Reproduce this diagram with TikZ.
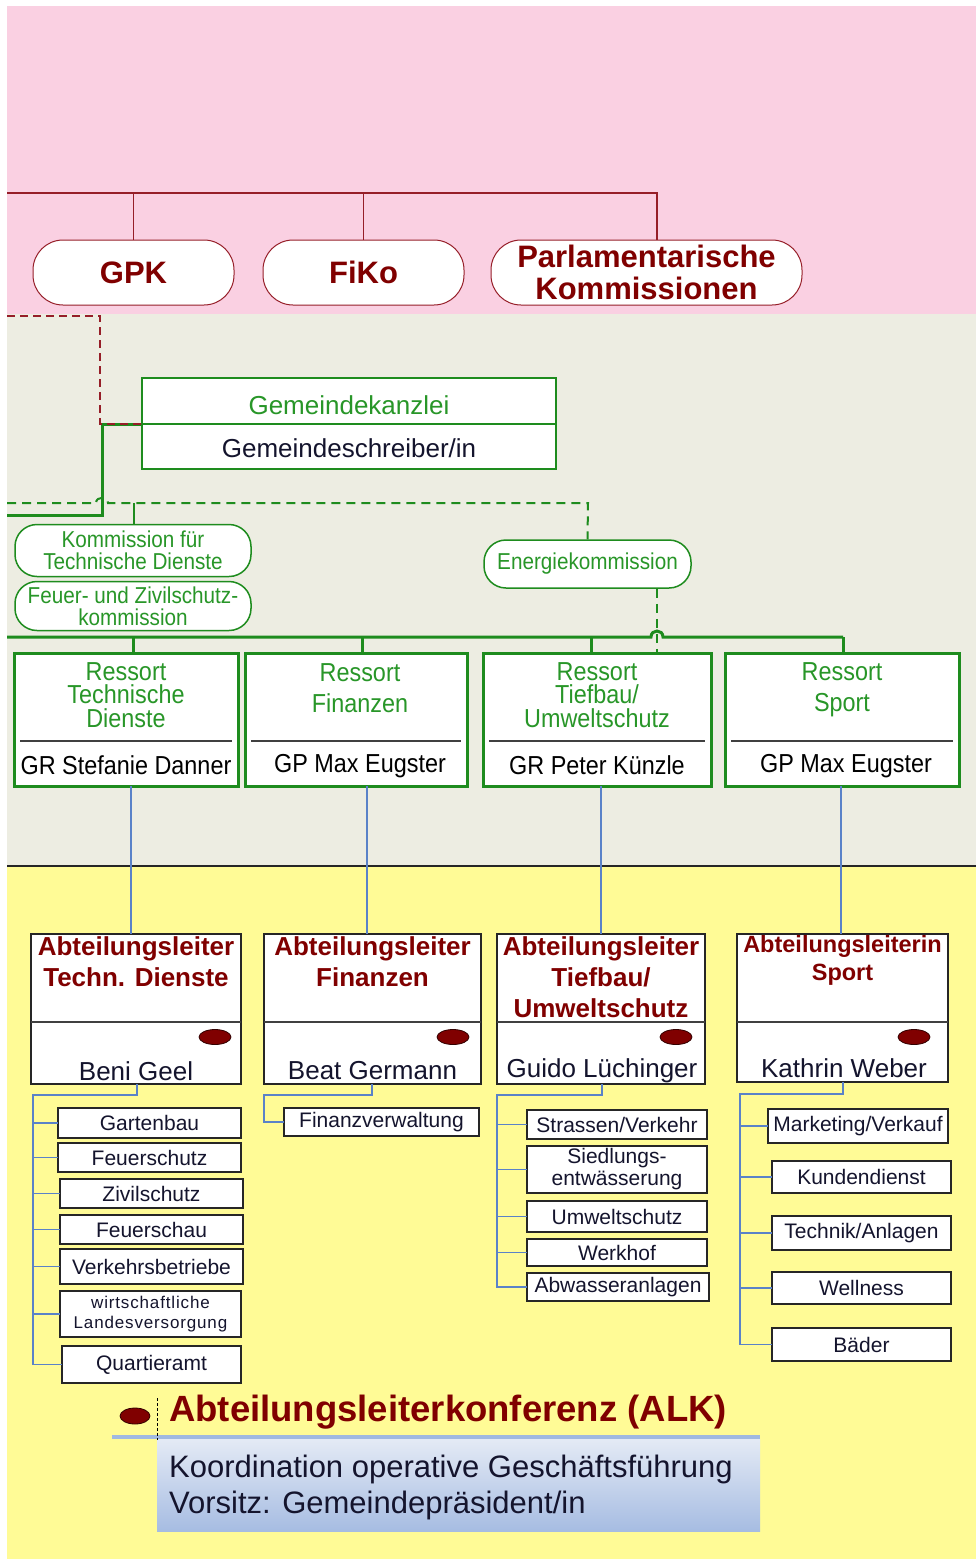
\documentclass[tikz,border=0pt]{standalone}
\usepackage{fontspec}
\setmainfont{Liberation Sans}
\newfontfamily\narrow[FakeStretch=0.9]{Liberation Sans}
\newfontfamily\spaced[LetterSpace=5]{Liberation Sans}
\usetikzlibrary{shapes.geometric,calc}
\definecolor{pinkbg}{RGB}{250,208,226}
\definecolor{beigebg}{RGB}{237,237,226}
\definecolor{yellowbg}{RGB}{255,251,150}
\definecolor{dred}{RGB}{128,0,0}
\definecolor{redline}{RGB}{150,30,40}
\definecolor{gline}{RGB}{30,140,30}
\definecolor{gtext}{RGB}{40,150,40}
\definecolor{bline}{RGB}{90,130,200}
\definecolor{navy}{RGB}{20,20,45}
\definecolor{alktop}{RGB}{228,234,245}
\definecolor{alkbot}{RGB}{166,188,226}
\definecolor{alkbar}{RGB}{160,185,225}
\tikzset{
  oval/.style={draw=redline, line width=1pt, fill=white, rounded corners=30pt, text=dred,
    font=\fontsize{31}{32}\selectfont\bfseries, inner sep=0pt, align=center},
  koval/.style={draw=gline, line width=1.5pt, fill=white, rounded corners=22pt, text=gtext,
    font=\narrow\fontsize{23}{22}\selectfont, inner sep=0pt, align=center},
  gbox/.style={draw=gline, line width=1.6pt, fill=white, inner sep=0pt, outer sep=0pt},
  gtxt/.style={font=\fontsize{26}{28}\selectfont, inner sep=0pt},
  rbox/.style={draw=gline, line width=3pt, fill=white, inner sep=0pt, outer sep=0pt},
  rtitle/.style={text=gtext, font=\narrow\fontsize{26}{23.5}\selectfont, align=center, inner sep=0pt},
  rname/.style={text=black, font=\narrow\fontsize{26}{28}\selectfont, inner sep=0pt},
  abox/.style={draw=black!85, line width=1.6pt, fill=white, inner sep=0pt, outer sep=0pt},
  atitle/.style={text=dred, font=\fontsize{26}{31}\selectfont\bfseries, align=center, inner sep=0pt},
  aname/.style={text=navy, font=\fontsize{26}{28}\selectfont, inner sep=0pt},
  dot/.style={ellipse, fill=dred, draw=black!60!dred, line width=0.8pt, minimum width=32pt,
    minimum height=15pt, inner sep=0pt},
  sbox/.style={draw=black!85, line width=1.6pt, fill=white, inner sep=0pt, outer sep=0pt,
    text=navy, font=\fontsize{21}{22}\selectfont, align=center},
  redl/.style={draw=redline, line width=1.6pt},
  rdash/.style={draw=redline, line width=1.6pt, dash pattern=on 8pt off 5pt},
  gbus/.style={draw=gline, line width=3pt},
  gdash/.style={draw=gline, line width=2pt, dash pattern=on 9pt off 6pt},
  gthin/.style={draw=gline, line width=1.5pt},
  bl/.style={draw=bline, line width=1.6pt},
  divider/.style={draw=black!75, line width=1.6pt},
}
\begin{document}
\begin{tikzpicture}[x=1pt,y=-1pt]
\useasboundingbox (0,0) rectangle (976,1559);
% backgrounds
\fill[white] (0,0) rectangle (976,1559);
\fill[pinkbg] (7,6) rectangle (976,314);
\fill[beigebg] (7,314) rectangle (976,866);
\fill[yellowbg] (7,866) rectangle (976,1559);
\draw[line width=2pt, black!85] (7,866) -- (976,866);

% ---------- top commissions
\node[oval, minimum width=201pt, minimum height=65pt] (gpk) at (133.5,272.5) {GPK};
\node[oval, minimum width=201pt, minimum height=65pt] (fiko) at (363.5,272.5) {FiKo};
\node[oval, minimum width=311pt, minimum height=65pt] (parl) at (646.5,272.5) {Parlamentarische\\Kommissionen};
\coordinate (topL) at (7,193);
\coordinate (tParl) at (657,193);
\draw[redl] (topL) -- (tParl) -- (tParl |- parl.north);
\draw[redl] (gpk.north |- topL) -- (gpk.north);
\draw[redl] (fiko.north |- topL) -- (fiko.north);

% ---------- Gemeindekanzlei
\node[gbox, minimum width=414pt, minimum height=46pt] (gk) at (349,401) {};
\node[gbox, minimum width=414pt, minimum height=45pt, anchor=north] (gs) at (gk.south) {};
\node[gtxt, text=gtext] (gkt) at (349,405) {Gemeindekanzlei};
\node[gtxt, text=navy] (gst) at (349,448) {Gemeindeschreiber/in};
\coordinate (gsL) at (7,515);
\coordinate (gsK) at (102,515);
\coordinate (rdL) at (7,316);
\coordinate (rdK) at (100,316);
\draw[gbus] (gsL) -- (gsK) -- (gsK |- gk.south west) -- (gk.south west);
\draw[rdash] (rdL) -- (rdK) -- (rdK |- gk.south west) -- (gk.south west);

% ---------- commissions (green)
\node[koval, minimum width=236pt, minimum height=52pt] (ktd) at (133,550.5) {Kommission f\"ur\\Technische Dienste};
\node[koval, minimum width=236pt, minimum height=49pt] (kfz) at (133,606) {Feuer- und Zivilschutz-\\kommission};
\node[koval, minimum width=207pt, minimum height=48pt] (energie) at (587.5,564) {Energiekommission};
\coordinate (gdL) at (7,503);
\coordinate (gdR) at (588,503);
\draw[gdash] (gdL) -- (96,503) .. controls (96,496) and (108,496) .. (108,503) -- (gdR) -- (energie.north);
\coordinate (tk) at (134,503);
\draw[gthin] (tk) -- (tk |- ktd.north);

% ---------- Ressorts
\node[rbox, minimum width=224pt, minimum height=133pt] (r1) at (126,719.5) {};
\node[rbox, minimum width=222pt, minimum height=133pt] (r2) at (356,719.5) {};
\node[rbox, minimum width=228pt, minimum height=133pt] (r3) at (597,719.5) {};
\node[rbox, minimum width=234pt, minimum height=133pt] (r4) at (842,719.5) {};
\foreach \r in {r1,r2,r3,r4}{
  \draw[divider] ($(\r.west)+(6,21.5)$) -- ($(\r.east)+(-6,21.5)$);
}
\node[rtitle] (r1t) at (126,695) {Ressort\\Technische\\Dienste};
\node[rtitle] (r2t) at (360,688) {Ressort\\[7.5pt]Finanzen};
\node[rtitle] (r3t) at (597,695) {Ressort\\Tiefbau/\\Umweltschutz};
\node[rtitle] (r4t) at (842,690) {Ressort\\[7.5pt]Sport};
\node[rname] (r1n) at (126,765) {GR Stefanie Danner};
\node[rname] (r2n) at (360,766) {GP Max Eugster};
\node[rname] (r3n) at (597,765) {GR Peter K\"unzle};
\node[rname] (r4n) at (846,766) {GP Max Eugster};

% main green bus
\coordinate (busL) at (7,637);
\coordinate (busR) at (843,637);
\draw[gbus] (busL) -- (651,637) .. controls (651,629) and (663,629) .. (663,637) -- (busR);
\coordinate (d1) at (133,637);
\coordinate (d2) at (362,637);
\coordinate (d3) at (591,637);
\draw[gbus] (d1) -- (d1 |- r1.north);
\draw[gbus] (d2) -- (d2 |- r2.north);
\draw[gbus] (d3) -- (d3 |- r3.north);
\draw[gbus] (busR) -- (busR |- r4.north);
\coordinate (ex) at (657,0);
\draw[gdash] (energie.south -| ex) -- (r3.north -| ex);

% ---------- Abteilungsleiter
\node[abox, minimum width=210pt, minimum height=150pt] (a1) at (136,1009) {};
\node[abox, minimum width=217pt, minimum height=150pt] (a2) at (372.5,1009) {};
\node[abox, minimum width=208pt, minimum height=150pt] (a3) at (601,1009) {};
\node[abox, minimum width=211pt, minimum height=148pt] (a4) at (842.5,1008) {};
\foreach \a in {a1,a2,a3}{
  \draw[divider] ($(\a.west)+(0,13)$) -- ($(\a.east)+(0,13)$);
}
\draw[divider] ($(a4.west)+(0,14)$) -- ($(a4.east)+(0,14)$);
\node[atitle] (a1t) at (136,962) {Abteilungsleiter\\Techn. Dienste};
\node[atitle] (a2t) at (372.5,962) {Abteilungsleiter\\Finanzen};
\node[atitle] (a3t) at (601,977) {Abteilungsleiter\\Tiefbau/\\Umweltschutz};
\node[atitle, font=\fontsize{23.5}{28}\selectfont\bfseries] (a4t) at (842.5,960) {Abteilungsleiterin\\Sport};
\node[dot] (a1d) at (215,1037) {};
\node[dot] (a2d) at (453,1037) {};
\node[dot] (a3d) at (676,1037) {};
\node[dot] (a4d) at (914,1037) {};
\node[aname] (a1n) at (136,1071) {Beni Geel};
\node[aname] (a2n) at (372.5,1071) {Beat Germann};
\node[aname] (a3n) at (602,1071) {Guido L\"uchinger};
\node[aname] (a4n) at (844,1068) {Kathrin Weber};

% blue links ressort -> abteilung
\coordinate (v1) at (131,0);
\coordinate (v2) at (367,0);
\coordinate (v3) at (601,0);
\coordinate (v4) at (841,0);
\draw[bl] (r1.south -| v1) -- (a1.north -| v1);
\draw[bl] (r2.south -| v2) -- (a2.north -| v2);
\draw[bl] (r3.south -| v3) -- (a3.north -| v3);
\draw[bl] (r4.south -| v4) -- (a4.north -| v4);

% ---------- lists A1
\node[sbox, minimum width=183pt, minimum height=30pt] (l11) at (149.5,1123) {Gartenbau};
\node[sbox, minimum width=183pt, minimum height=29pt] (l12) at (149.5,1157.5) {Feuerschutz};
\node[sbox, minimum width=183pt, minimum height=29pt] (l13) at (151.5,1193.5) {Zivilschutz};
\node[sbox, minimum width=183pt, minimum height=29pt] (l14) at (151.5,1229.5) {Feuerschau};
\node[sbox, minimum width=183pt, minimum height=35pt] (l15) at (151.5,1266.5) {Verkehrsbetriebe};
\node[sbox, minimum width=181pt, minimum height=46pt, font=\spaced\fontsize{17}{20}\selectfont] (l16) at (150.5,1314) {wirtschaftliche\\Landesversorgung};
\node[sbox, minimum width=179pt, minimum height=37pt] (l17) at (151.5,1364.5) {Quartieramt};
\coordinate (b1) at (33,1095);
\coordinate (b1x) at (137,1095);
\draw[bl] (a1.south -| b1x) -- (b1x) -- (b1) -- (b1 |- l17.west) -- (l17.west);
\foreach \n in {l11,l12,l13,l14,l15,l16}{ \draw[bl] (b1 |- \n.west) -- (\n.west); }

% ---------- list A2
\node[sbox, minimum width=195pt, minimum height=28pt] (l21) at (381.5,1122) {Finanzverwaltung};
\coordinate (b2) at (264,1095);
\coordinate (b2x) at (372,1095);
\draw[bl] (a2.south -| b2x) -- (b2x) -- (b2) -- (b2 |- l21.west) -- (l21.west);

% ---------- list A3
\node[sbox, minimum width=180pt, minimum height=29pt] (l31) at (617,1124.5) {Strassen/Verkehr};
\node[sbox, minimum width=180pt, minimum height=47pt] (l32) at (617,1169.5) {Siedlungs-\\entw\"asserung};
\node[sbox, minimum width=180pt, minimum height=31pt] (l33) at (617,1216.5) {Umweltschutz};
\node[sbox, minimum width=180pt, minimum height=27pt] (l34) at (617,1252.5) {Werkhof};
\node[sbox, minimum width=182pt, minimum height=28pt] (l35) at (618,1287) {Abwasseranlagen};
\coordinate (b3) at (497,1095);
\coordinate (b3x) at (602,1095);
\draw[bl] (a3.south -| b3x) -- (b3x) -- (b3) -- (b3 |- l35.west) -- (l35.west);
\foreach \n in {l31,l32,l33,l34}{ \draw[bl] (b3 |- \n.west) -- (\n.west); }

% ---------- list A4
\node[sbox, minimum width=180pt, minimum height=34pt] (l41) at (858,1126) {Marketing/Verkauf};
\node[sbox, minimum width=179pt, minimum height=32pt] (l42) at (861.5,1177) {Kundendienst};
\node[sbox, minimum width=179pt, minimum height=34pt] (l43) at (861.5,1233) {Technik/Anlagen};
\node[sbox, minimum width=179pt, minimum height=32pt] (l44) at (861.5,1288) {Wellness};
\node[sbox, minimum width=179pt, minimum height=33pt] (l45) at (861.5,1344.5) {B\"ader};
\coordinate (b4) at (740,1094);
\coordinate (b4x) at (843,1094);
\draw[bl] (a4.south -| b4x) -- (b4x) -- (b4) -- (b4 |- l45.west) -- (l45.west);
\foreach \n in {l41,l42,l43,l44}{ \draw[bl] (b4 |- \n.west) -- (\n.west); }

% ---------- ALK
\node[anchor=north west, top color=alktop, bottom color=alkbot, minimum width=603pt,
  minimum height=92pt, inner sep=0pt] (alkbox) at (157,1439) {};
\coordinate (bar1) at (112,1437);
\coordinate (bar2) at (760,1437);
\draw[draw=alkbar, line width=4pt] (bar1) -- (bar2);
\node[dot, minimum width=30pt, minimum height=16pt] (alkdot) at (135,1416) {};
\coordinate (sep1) at (157,1398);
\coordinate (sep2) at (157,1440);
\draw[black, line width=1pt, dash pattern=on 3pt off 2pt] (sep1) -- (sep2);
\node[anchor=west, text=dred, font=\fontsize{36.5}{40}\selectfont\bfseries, inner sep=0pt] (alkt) at (169,1412) {Abteilungsleiterkonferenz (ALK)};
\node[anchor=west, align=left, text=navy, font=\fontsize{31}{36}\selectfont, inner sep=0pt] (alktxt) at (169,1487) {Koordination operative Gesch\"aftsf\"uhrung\\Vorsitz: Gemeindepr\"asident/in};
\end{tikzpicture}
\end{document}
